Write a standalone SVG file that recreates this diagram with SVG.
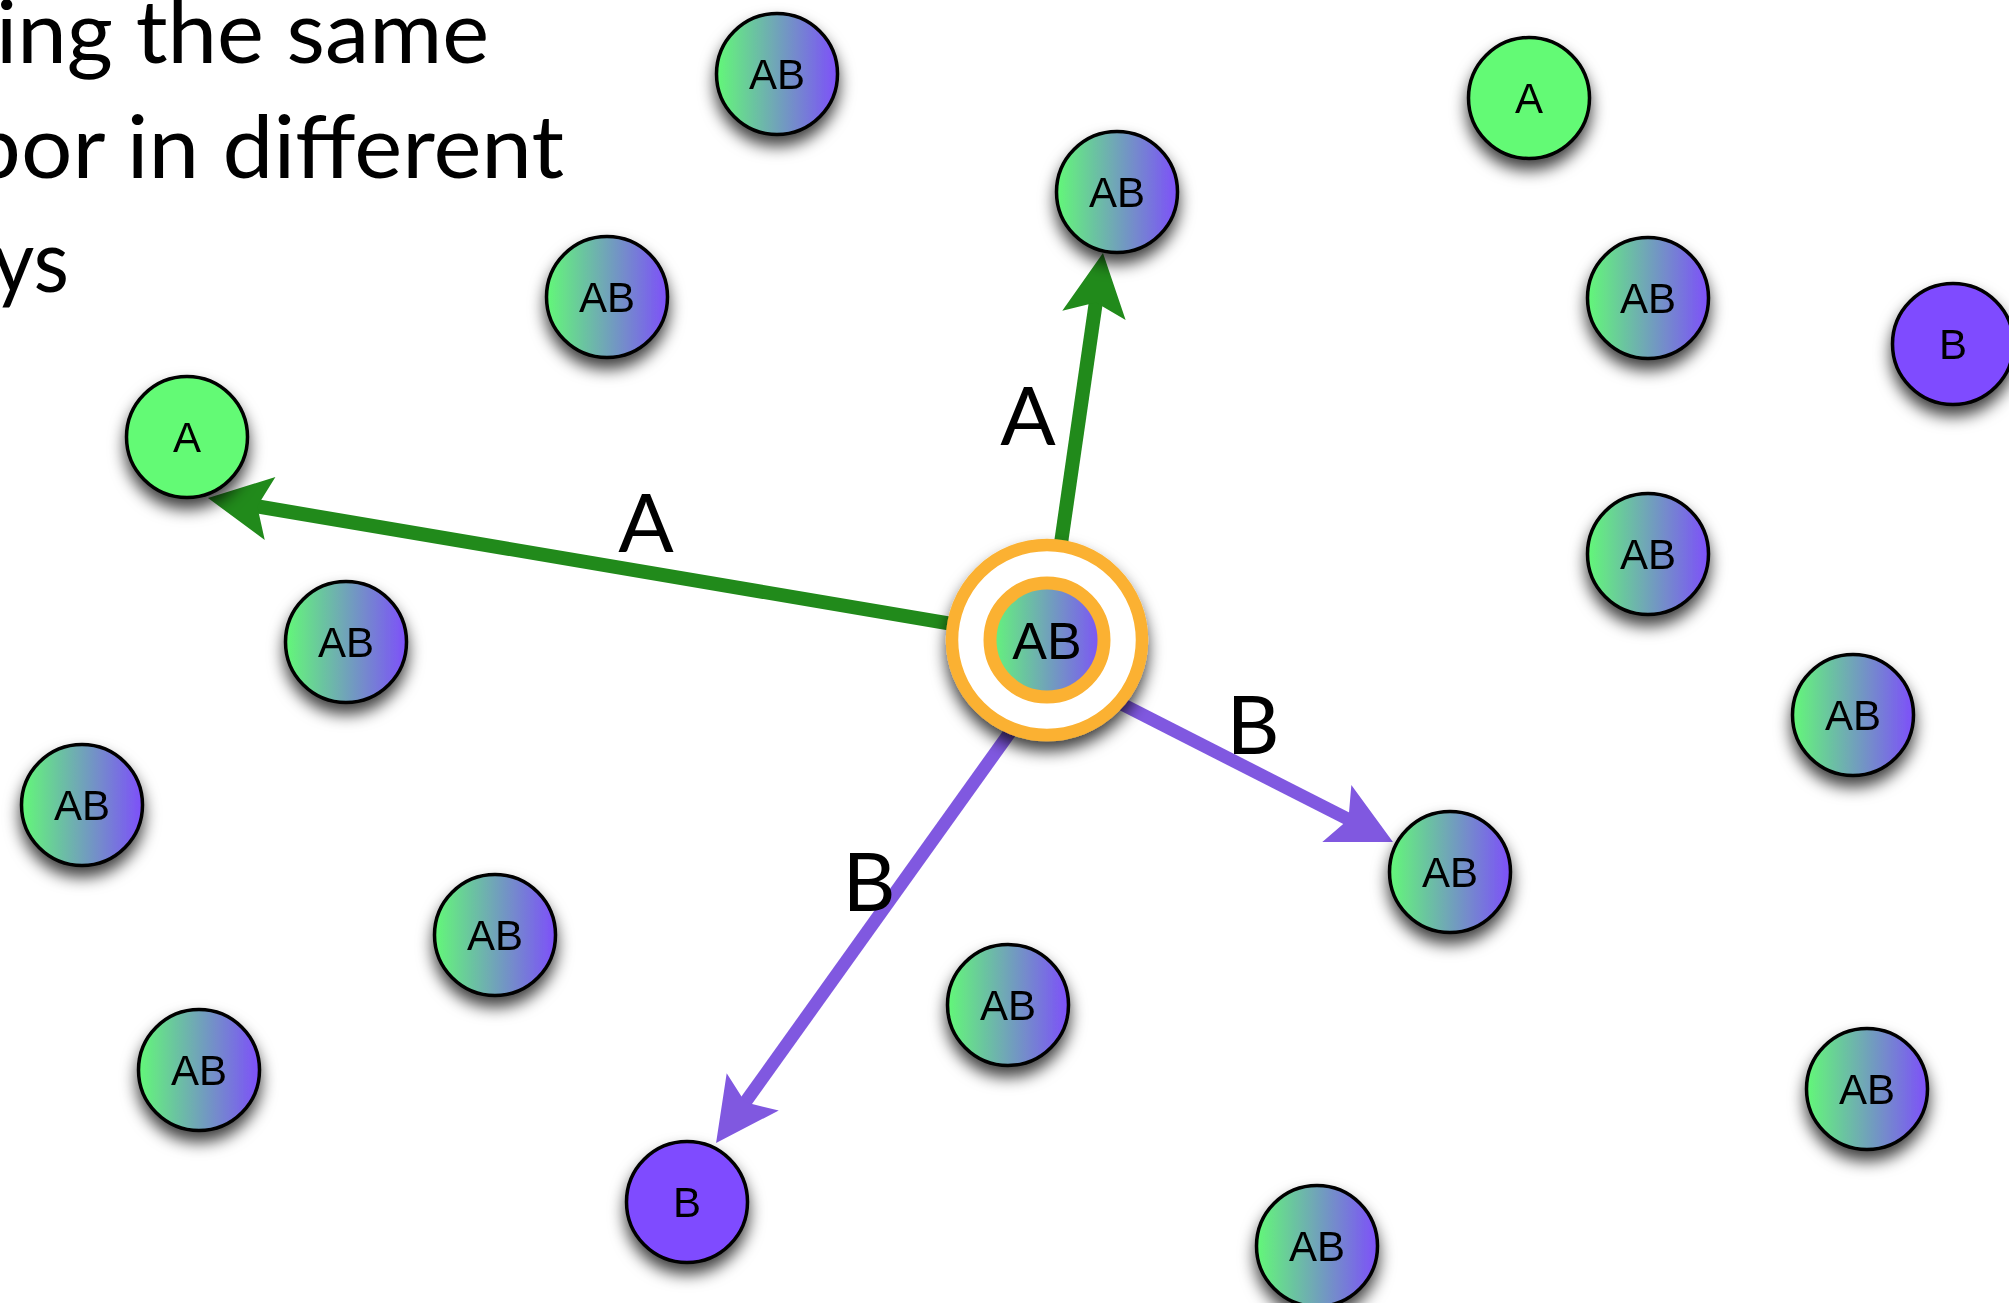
<svg xmlns="http://www.w3.org/2000/svg" width="2009" height="1303" viewBox="0 0 2009 1303">
<style>
.title{font-family:Lato,"Open Sans","DejaVu Sans",sans-serif;font-size:88px;fill:#000}
.elabel{font-family:Lato,"Open Sans","DejaVu Sans",sans-serif;font-size:82px;fill:#000;text-anchor:middle}
.nlabel{font-family:"Liberation Sans",Arial,sans-serif;font-size:42px;fill:#000;text-anchor:middle}
.node{stroke:#000;stroke-width:3.5}
.ab{fill:url(#gradAB)}
.a{fill:#63fa74}
.b{fill:#7f4bff}
.edgeA{stroke:#218a1b;stroke-width:14;fill:none}
.edgeB{stroke:#8058e0;stroke-width:13;fill:none}
</style>
<defs>
<linearGradient id="gradAB" x1="0" y1="0" x2="1" y2="0">
<stop offset="0" stop-color="#63f878"/>
<stop offset="1" stop-color="#7d4ffa"/>
</linearGradient>
<filter id="shadow" x="-40%" y="-40%" width="180%" height="190%">
<feDropShadow dx="0" dy="10" stdDeviation="8" flood-color="#000" flood-opacity="0.75"/>
</filter>
<marker id="arrowA" markerUnits="userSpaceOnUse" markerWidth="140" markerHeight="140" refX="0" refY="0" viewBox="-70 -70 140 140" orient="auto" overflow="visible">
<path d="M48,0 L-15,-32 L-2,0 L-15,32 Z" fill="#218a1b"/>
</marker>
<marker id="arrowB" markerUnits="userSpaceOnUse" markerWidth="140" markerHeight="140" refX="0" refY="0" viewBox="-70 -70 140 140" orient="auto" overflow="visible">
<path d="M48,0 L-15,-32 L-2,0 L-15,32 Z" fill="#8058e0"/>
</marker>
</defs>
<rect width="2009" height="1303" fill="#fff"/>

<g id="title">
<text class="title" x="-4" y="63" textLength="493" lengthAdjust="spacingAndGlyphs">ing the same</text>
<text class="title" x="-30" y="178" textLength="594" lengthAdjust="spacingAndGlyphs">bor in different</text>
<text class="title" x="-8" y="292" textLength="77" lengthAdjust="spacingAndGlyphs">ys</text>
</g>

<g id="connectors">
<path class="edgeA" d="M1047,640 L255.3,506" marker-end="url(#arrowA)"/>
<path class="edgeA" d="M1047,640 L1096.1,300.5" marker-end="url(#arrowA)"/>
<path class="edgeB" d="M1047,666 L1350.2,820.3" marker-end="url(#arrowB)"/>
<path class="edgeB" d="M1076,640 L744,1104" marker-end="url(#arrowB)"/>
<text class="elabel" x="1028" y="445">A</text>
<text class="elabel" x="646" y="552">A</text>
<text class="elabel" x="1253" y="754">B</text>
<text class="elabel" x="869" y="911">B</text>
</g>

<g id="n1" filter="url(#shadow)"><circle class="node ab" cx="777" cy="74" r="60.5"/><text class="nlabel" x="777" y="89">AB</text></g>
<g id="n2" filter="url(#shadow)"><circle class="node a" cx="1529" cy="98" r="60.5"/><text class="nlabel" x="1529" y="113">A</text></g>
<g id="n3" filter="url(#shadow)"><circle class="node ab" cx="1117" cy="192" r="60.5"/><text class="nlabel" x="1117" y="207">AB</text></g>
<g id="n4" filter="url(#shadow)"><circle class="node ab" cx="607" cy="297" r="60.5"/><text class="nlabel" x="607" y="312">AB</text></g>
<g id="n5" filter="url(#shadow)"><circle class="node ab" cx="1648" cy="298" r="60.5"/><text class="nlabel" x="1648" y="313">AB</text></g>
<g id="n6" filter="url(#shadow)"><circle class="node b" cx="1953" cy="344" r="60.5"/><text class="nlabel" x="1953" y="359">B</text></g>
<g id="n7" filter="url(#shadow)"><circle class="node a" cx="187" cy="437" r="60.5"/><text class="nlabel" x="187" y="452">A</text></g>
<g id="n8" filter="url(#shadow)"><circle class="node ab" cx="1648" cy="554" r="60.5"/><text class="nlabel" x="1648" y="569">AB</text></g>
<g id="n9" filter="url(#shadow)"><circle class="node ab" cx="346" cy="642" r="60.5"/><text class="nlabel" x="346" y="657">AB</text></g>
<g id="n11" filter="url(#shadow)"><circle class="node ab" cx="1853" cy="715" r="60.5"/><text class="nlabel" x="1853" y="730">AB</text></g>
<g id="n12" filter="url(#shadow)"><circle class="node ab" cx="82" cy="805" r="60.5"/><text class="nlabel" x="82" y="820">AB</text></g>
<g id="n13" filter="url(#shadow)"><circle class="node ab" cx="1450" cy="872" r="60.5"/><text class="nlabel" x="1450" y="887">AB</text></g>
<g id="n14" filter="url(#shadow)"><circle class="node ab" cx="495" cy="935" r="60.5"/><text class="nlabel" x="495" y="950">AB</text></g>
<g id="n15" filter="url(#shadow)"><circle class="node ab" cx="1008" cy="1005" r="60.5"/><text class="nlabel" x="1008" y="1020">AB</text></g>
<g id="n16" filter="url(#shadow)"><circle class="node ab" cx="199" cy="1070" r="60.5"/><text class="nlabel" x="199" y="1085">AB</text></g>
<g id="n17" filter="url(#shadow)"><circle class="node ab" cx="1867" cy="1089" r="60.5"/><text class="nlabel" x="1867" y="1104">AB</text></g>
<g id="n18" filter="url(#shadow)"><circle class="node b" cx="687" cy="1202" r="60.5"/><text class="nlabel" x="687" y="1217">B</text></g>
<g id="n19" filter="url(#shadow)"><circle class="node ab" cx="1317" cy="1246" r="60.5"/><text class="nlabel" x="1317" y="1261">AB</text></g>

<g id="center" filter="url(#shadow)">
<circle cx="1047" cy="640" r="95" fill="#fff" stroke="#fbb131" stroke-width="12.5"/>
<circle cx="1047" cy="640" r="57" fill="url(#gradAB)" stroke="#fbb131" stroke-width="13"/>
<text class="nlabel" x="1047" y="659" style="font-size:52px">AB</text>
</g>
</svg>
